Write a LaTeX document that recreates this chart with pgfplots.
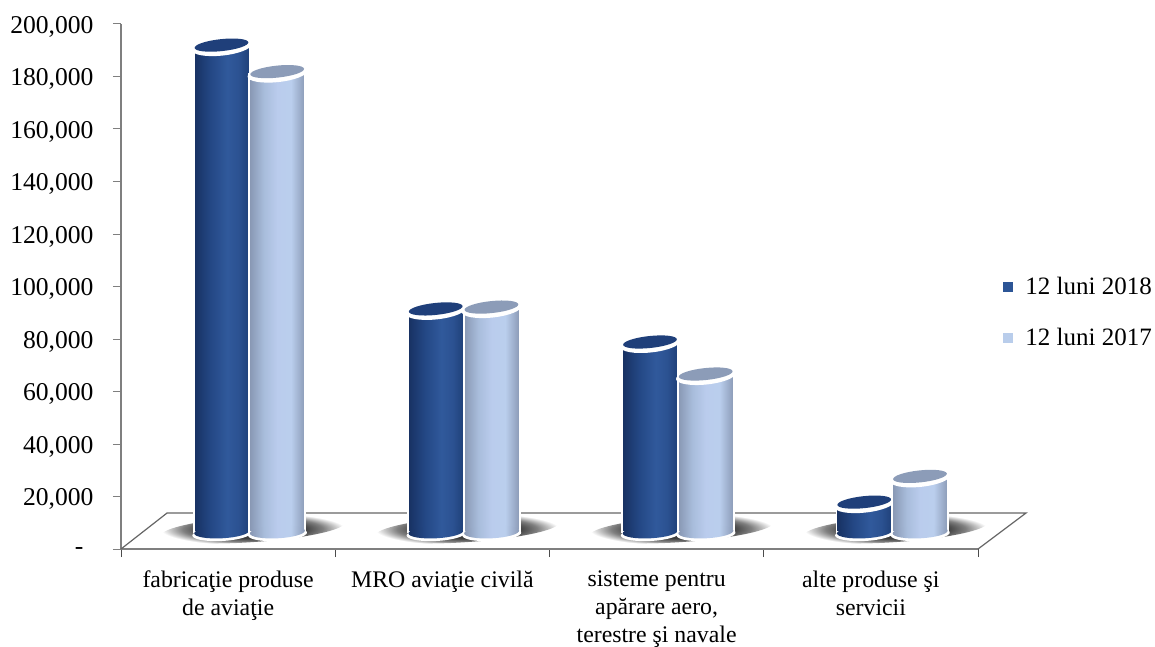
\documentclass[border=0pt]{standalone}
\usepackage{fontspec}
\setmainfont{Liberation Serif}
\usepackage{pgfplots}
\usepackage{pgfplotstable}
\pgfplotsset{compat=1.18}

\definecolor{axisgray}{HTML}{7F7F7F}
\definecolor{captopdark}{HTML}{1F3F7A}
\definecolor{captoplight}{HTML}{8C9CB8}
\definecolor{keydark}{HTML}{2C5596}
\definecolor{keylight}{HTML}{B9CDEB}

% bar bodies, the path box maps on 25bp..75bp
\pgfdeclarehorizontalshading{cyldark}{100bp}{
  rgb(0bp)=(0.09,0.19,0.38); rgb(25bp)=(0.09,0.19,0.38);
  rgb(40bp)=(0.14,0.28,0.52); rgb(55bp)=(0.19,0.35,0.61);
  rgb(65bp)=(0.17,0.32,0.57); rgb(75bp)=(0.12,0.25,0.47); rgb(100bp)=(0.12,0.25,0.47)}
\pgfdeclarehorizontalshading{cyllight}{100bp}{
  rgb(0bp)=(0.53,0.59,0.70); rgb(25bp)=(0.53,0.59,0.70);
  rgb(38bp)=(0.66,0.74,0.86); rgb(50bp)=(0.73,0.80,0.93);
  rgb(62bp)=(0.73,0.81,0.93); rgb(75bp)=(0.54,0.60,0.71); rgb(100bp)=(0.54,0.60,0.71)}
\pgfdeclareradialshading{floorshadow}{\pgfpointorigin}{
  rgb(0bp)=(0.2,0.2,0.2); rgb(14bp)=(0.25,0.25,0.25); rgb(19bp)=(0.5,0.5,0.5);
  rgb(25bp)=(1,1,1); rgb(50bp)=(1,1,1)}

\newcommand{\capmark}[1]{%
  \pgftransformrotate{6}%
  \pgfsetfillcolor{white}%
  \pgfpathellipse{\pgfpointorigin}{\pgfqpoint{30pt}{0pt}}{\pgfqpoint{0pt}{8.5pt}}%
  \pgfusepath{fill}%
  \pgfsetfillcolor{#1}%
  \pgfpathellipse{\pgfqpoint{0pt}{2pt}}{\pgfqpoint{27pt}{0pt}}{\pgfqpoint{0pt}{6pt}}%
  \pgfusepath{fill}}
% white rim only under the foot: the white ellipse sits lower than the shaded one
\newcommand{\basemark}[1]{%
  \pgftransformrotate{3}%
  \pgfsetfillcolor{white}%
  \pgfpathellipse{\pgfqpoint{0pt}{-2pt}}{\pgfqpoint{29.5pt}{0pt}}{\pgfqpoint{0pt}{7pt}}%
  \pgfusepath{fill}%
  \pgfpathellipse{\pgfpointorigin}{\pgfqpoint{27.5pt}{0pt}}{\pgfqpoint{0pt}{6.3pt}}%
  \pgfshadepath{#1}{0}%
  \pgfusepath{discard}}
\pgfdeclareplotmark{capdark}{\capmark{captopdark}}
\pgfdeclareplotmark{caplight}{\capmark{captoplight}}
\pgfdeclareplotmark{basedark}{\basemark{cyldark}}
\pgfdeclareplotmark{baselight}{\basemark{cyllight}}
\pgfdeclareplotmark{blob}{%
  \pgftransformrotate{4}%
  \pgfpathellipse{\pgfpointorigin}{\pgfqpoint{92pt}{0pt}}{\pgfqpoint{0pt}{13pt}}%
  \pgfshadepath{floorshadow}{0}%
  \pgfusepath{discard}}

\pgfplotsset{
  body/.style={ybar, bar width=56pt, shade, draw=white, line width=1.9pt, forget plot},
  bodydark/.style={body, shading=cyldark},
  bodylight/.style={body, shading=cyllight},
}

% values, base = where the cylinders stand
\pgfplotstableread{
x     y       base
0.47  191200  6476
1.47  90700   6476
2.47  78100   6476
3.47  17100   6476
}\darkdata
\pgfplotstableread{
x     y       base
0.73  181100  6476
1.73  91400   6476
2.73  65900   6476
3.73  26900   6476
}\lightdata
\pgfplotstableread{
x     y
0.616 7600
1.616 7600
2.616 7600
3.616 7600
}\shadowdata

\begin{document}
\begin{tikzpicture}
\path[use as bounding box] (0,0) rectangle (1155pt,646pt);

\begin{axis}[
  at={(121pt,97pt)}, anchor=south west,
  scale only axis, width=857pt, height=525pt,
  xmin=0, xmax=4, ymin=0, ymax=200000,
  clip=false, scaled y ticks=false,
  axis x line*=bottom, axis y line*=left,
  axis line style={axisgray, line width=1.2pt, -},
  tick style={axisgray, line width=1pt},
  tick align=outside,
  ytick={0,20000,...,200000},
  yticklabels={{-\hspace*{10pt}},{20,000},{40,000},{60,000},{80,000},{100,000},{120,000},{140,000},{160,000},{180,000},{200,000}},
  yticklabel style={font=\fontsize{25.6}{30}\selectfont, xshift=-16pt, yshift=-2.5pt},
  major tick length=8pt,
  xtick={0.5,1.5,2.5,3.5},
  xticklabels={{fabricaţie produse\\de aviaţie},{MRO aviaţie civilă},{sisteme pentru\\apărare aero,\\terestre şi navale},{alte produse şi\\servicii}},
  x tick label style={font=\fontsize{23.8}{28}\selectfont, align=center, yshift=-10.5pt},
  major x tick style={draw=none},
  minor xtick={0,1,2,3,4},
  minor tick length=8pt,
  minor x tick style={black!70, line width=1pt},
]
\addplot[only marks, mark=blob, forget plot] table {\shadowdata};
\addplot[axisgray!80!black, line width=1.2pt, forget plot] coordinates {(0,0) (0.215,13714) (4.224,13714) (4,0)};
\end{axis}

\begin{axis}[
  at={(121pt,114pt)}, anchor=south west,
  scale only axis, width=857pt, height=508pt,
  xmin=0, xmax=4, ymin=6476, ymax=200000,
  hide axis, clip mode=individual,
  legend style={at={(1.029,0.433)}, anchor=west, draw=none, fill=none,
    font=\fontsize{25}{30}\selectfont, row sep=28pt, inner sep=0pt},
  legend cell align=left,
  legend image code/.code={
    \path (0pt,0pt) (20pt,0pt);
    \fill[#1] (0pt,-5pt) rectangle (9pt,4pt);
  },
]
% one plot per bar, the shading of one plot would span all its bars
\addplot[bodydark] coordinates {(0.47,191200)};
\addplot[bodydark] coordinates {(1.47,90700)};
\addplot[bodydark] coordinates {(2.47,78100)};
\addplot[bodydark] coordinates {(3.47,17100)};
\addplot[only marks, mark=basedark, forget plot] table[x=x, y=base] {\darkdata};
\addplot[only marks, mark=capdark, forget plot] table[x=x, y=y] {\darkdata};
\addplot[bodylight] coordinates {(0.73,181100)};
\addplot[bodylight] coordinates {(1.73,91400)};
\addplot[bodylight] coordinates {(2.73,65900)};
\addplot[bodylight] coordinates {(3.73,26900)};
\addplot[only marks, mark=baselight, forget plot] table[x=x, y=base] {\lightdata};
\addplot[only marks, mark=caplight, forget plot] table[x=x, y=y] {\lightdata};
\addlegendimage{keydark}
\addlegendimage{keylight}
\legend{12 luni 2018, 12 luni 2017}
\end{axis}
\end{tikzpicture}
\end{document}
